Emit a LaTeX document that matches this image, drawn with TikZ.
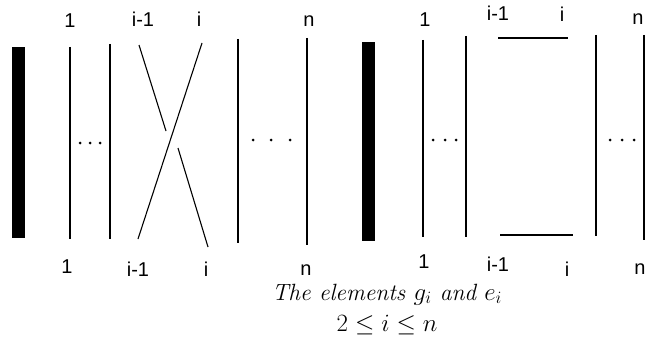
\documentclass[tikz,border=0pt]{standalone}
\usepackage{fontspec}
\setsansfont{Liberation Sans}
\begin{document}
\begin{tikzpicture}[x=1pt,y=-1pt,
  strand/.style={line width=1.1pt,black},
  lbl/.style={font=\sffamily\fontsize{20}{22}\selectfont,inner sep=0pt,anchor=base},
  barbox/.style={fill=black,draw=none},
  dotmark/.style={circle,fill=black,draw=none,inner sep=0pt,minimum size=3pt},
  capt/.style={inner sep=0pt,anchor=base}]
\useasboundingbox (0,0) rectangle (645,337);
% ---------------- left diagram (g_i) ----------------
\fill[barbox] (12,47) rectangle (25,238);
\coordinate (a1t) at (70,47);   \coordinate (a1b) at (70,239);
\coordinate (a2t) at (110,44);  \coordinate (a2b) at (110,239);
\coordinate (ut) at (139,45);   \coordinate (ug1) at (166,131);
\coordinate (ug2) at (178,148); \coordinate (ub) at (208,247);
\coordinate (ot) at (202,43);   \coordinate (ob) at (138,239);
\coordinate (a3t) at (238,39);  \coordinate (a3b) at (238,243);
\coordinate (a4t) at (307,38);  \coordinate (a4b) at (307,245);
\draw[strand] (a1t) -- (a1b);
\draw[strand] (a2t) -- (a2b);
\draw[strand] (ut) -- (ug1);
\draw[strand] (ug2) -- (ub);
\draw[strand] (ot) -- (ob);
\draw[strand] (a3t) -- (a3b);
\draw[strand] (a4t) -- (a4b);
\node[dotmark] (d1) at (80,143) {};
\node[dotmark] (d2) at (90,143) {};
\node[dotmark] (d3) at (100,143) {};
\node[dotmark] (d4) at (253,140) {};
\node[dotmark] (d5) at (271,140) {};
\node[dotmark] (d6) at (290,140) {};
\node[lbl] (lt1) at (70,28) {1};
\node[lbl] (lt2) at (143,27) {i-1};
\node[lbl] (lt3) at (199,27) {i};
\node[lbl] (lt4) at (309,27) {n};
\node[lbl] (lb1) at (67,273) {1};
\node[lbl] (lb2) at (138,276) {i-1};
\node[lbl] (lb3) at (206,276) {i};
\node[lbl] (lb4) at (306,275) {n};
% ---------------- right diagram (e_i) ----------------
\fill[barbox] (362,42) rectangle (375,241);
\coordinate (b1t) at (423,40);  \coordinate (b1b) at (423,237);
\coordinate (b2t) at (466,36);  \coordinate (b2b) at (466,237);
\coordinate (ht1) at (498,38);  \coordinate (ht2) at (568,38);
\coordinate (hb1) at (500,235); \coordinate (hb2) at (573,235);
\coordinate (b3t) at (596,35);  \coordinate (b3b) at (596,236);
\coordinate (b4t) at (644,35);  \coordinate (b4b) at (644,240);
\draw[strand] (b1t) -- (b1b);
\draw[strand] (b2t) -- (b2b);
\draw[strand] (ht1) -- (ht2);
\draw[strand] (hb1) -- (hb2);
\draw[strand] (b3t) -- (b3b);
\draw[strand] (b4t) -- (b4b);
\node[dotmark] (e1) at (433,140) {};
\node[dotmark] (e2) at (445,140) {};
\node[dotmark] (e3) at (456,140) {};
\node[dotmark] (e4) at (610,140) {};
\node[dotmark] (e5) at (622,140) {};
\node[dotmark] (e6) at (634,140) {};
\node[lbl] (rt1) at (425,27) {1};
\node[lbl] (rt2) at (498,21) {i-1};
\node[lbl] (rt3) at (562,22) {i};
\node[lbl] (rt4) at (638,25) {n};
\node[lbl] (rb1) at (424,268) {1};
\node[lbl] (rb2) at (498,271) {i-1};
\node[lbl] (rb3) at (567,276) {i};
\node[lbl] (rb4) at (640,274) {n};
% ---------------- caption ----------------
\node[capt,font=\fontsize{23.5}{28}\selectfont] (cap1) at (387,300) {\textit{The elements $g_i$ and $e_i$}};
\node[capt,font=\fontsize{25}{30}\selectfont] (cap2) at (387,331) {$2\le i\le n$};
\end{tikzpicture}
\end{document}
